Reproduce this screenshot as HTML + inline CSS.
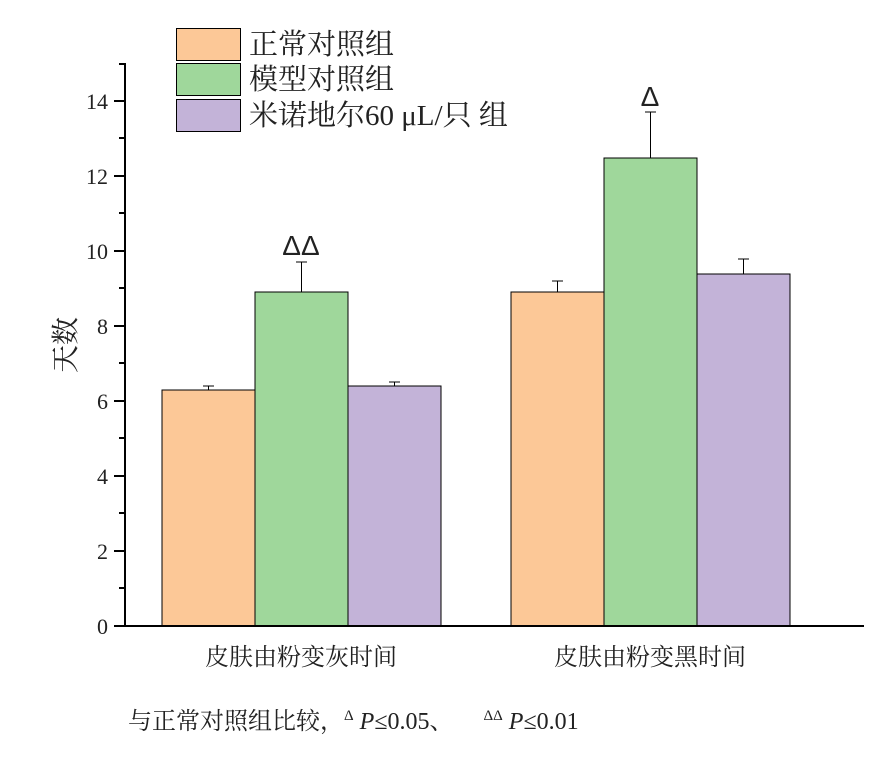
<!DOCTYPE html><html><head><meta charset="utf-8"><style>body{margin:0;background:#fff}svg text{font-family:"Liberation Serif","Noto Serif CJK SC","Noto Sans CJK SC",serif;fill:#222}</style></head><body>
<svg width="877" height="752" xmlns="http://www.w3.org/2000/svg">
<g stroke="#000" stroke-width="1">
<rect x="162" y="390" width="93" height="236" fill="#fcc897"/>
<rect x="255" y="292" width="93" height="334" fill="#9fd79b"/>
<rect x="348" y="386" width="93" height="240" fill="#c3b3d8"/>
<rect x="511" y="292" width="93" height="334" fill="#fcc897"/>
<rect x="604" y="158" width="93" height="468" fill="#9fd79b"/>
<rect x="697" y="274" width="93" height="352" fill="#c3b3d8"/>
<path d="M208.5 390V386M203 386h11M301.5 292V262M296 262h11M394.5 386V382M389 382h11M557.5 292V281M552 281h11M650.5 158V112M645 112h11M743.5 274V259M738 259h11"/>
</g>
<g stroke="#000" stroke-width="2" fill="none">
<path d="M125 63V627M124 626H864"/>
<path d="M114 626h11M114 551h11M114 476h11M114 401h11M114 326h11M114 251h11M114 176h11M114 101h11"/>
<path d="M119 588h6M119 513h6M119 438h6M119 363h6M119 288h6M119 213h6M119 138h6M119 64h6"/>
</g>
<g font-size="22" text-anchor="end">
<text x="108" y="634">0</text><text x="108" y="559">2</text><text x="108" y="484">4</text><text x="108" y="409">6</text><text x="108" y="334">8</text><text x="108" y="259">10</text><text x="108" y="184">12</text><text x="108" y="109">14</text>
</g>
<text transform="translate(75 345) rotate(-90)" font-size="28" text-anchor="middle">天数</text>
<text x="301" y="665" font-size="24" text-anchor="middle">皮肤由粉变灰时间</text>
<text x="650" y="665" font-size="24" text-anchor="middle">皮肤由粉变黑时间</text>
<text x="301" y="255" font-size="28" text-anchor="middle" style="font-family:'Liberation Sans',sans-serif">ΔΔ</text>
<text x="650" y="106" font-size="28" text-anchor="middle" style="font-family:'Liberation Sans',sans-serif">Δ</text>
<g stroke="#000" stroke-width="1">
<rect x="176.5" y="28.5" width="64" height="32" fill="#fcc897"/>
<rect x="176.5" y="63.5" width="64" height="32" fill="#9fd79b"/>
<rect x="176.5" y="99.5" width="64" height="32" fill="#c3b3d8"/>
</g>
<g font-size="29">
<text x="249" y="54">正常对照组</text>
<text x="249" y="89">模型对照组</text>
<text x="249" y="125">米诺地尔60 μL/只 组</text>
</g>
<text x="128" y="729" font-size="24" xml:space="preserve">与正常对照组比较，<tspan font-size="15" dy="-9">Δ</tspan><tspan dy="9" font-style="italic"> P</tspan>≤0.05、     <tspan font-size="15" dy="-9">ΔΔ</tspan><tspan dy="9" font-style="italic"> P</tspan>≤0.01</text>
</svg></body></html>
